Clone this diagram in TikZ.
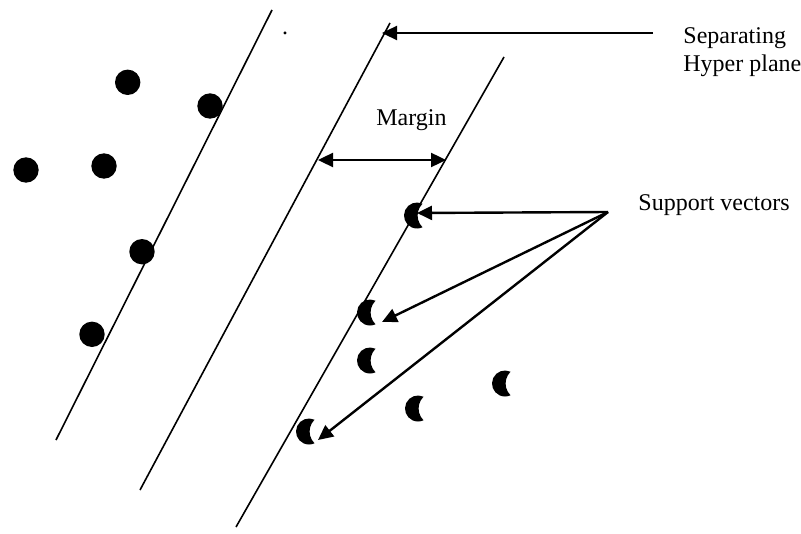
\documentclass[tikz,border=0pt]{standalone}
\usepackage{fontspec}
\setmainfont{Liberation Serif}
\usetikzlibrary{arrows.meta}

\begin{document}
\begin{tikzpicture}[x=0.5pt, y=-0.5pt, >={Triangle[length=7.5pt,width=7pt]},
  every node/.style={font=\fontsize{12}{14}\selectfont, inner sep=0pt},
  hyper/.style={line width=0.8pt},
  pointer/.style={line width=1.2pt,->},
  dot/.style={circle,fill,minimum size=12.7pt},
  moon/.pic={\fill (65:6.5pt) arc[start angle=65,end angle=295,radius=6.5pt]
               arc[start angle=-134.8,end angle=-225.2,radius=8.3pt] -- cycle;}]
  \useasboundingbox (0,0) rectangle (801,534);
  % the three planes
  \coordinate (l1top) at (272,10);  \coordinate (l1bot) at (56,440);
  \coordinate (l2top) at (390,23);  \coordinate (l2bot) at (140,490);
  \coordinate (l3top) at (504,57);  \coordinate (l3bot) at (236,527);
  \draw[hyper] (l1top) -- (l1bot);
  \draw[hyper] (l2top) -- (l2bot);
  \draw[hyper] (l3top) -- (l3bot);
  % class one
  \node[dot] (c1) at (127.7,82.3) {};
  \node[dot] (c2) at (210,106) {};
  \node[dot] (c3) at (26,170) {};
  \node[dot] (c4) at (104,166) {};
  \node[dot] (c5) at (142,251.7) {};
  \node[dot] (c6) at (92,334.3) {};
  % class two
  \coordinate (m1) at (417,215.5);
  \coordinate (m2) at (370,312.5);
  \coordinate (m3) at (370,360.5);
  \coordinate (m4) at (505,383.5);
  \coordinate (m5) at (418,408.5);
  \coordinate (m6) at (309,431.5);
  \pic at (m1) {moon};
  \pic at (m2) {moon};
  \pic at (m3) {moon};
  \pic at (m4) {moon};
  \pic at (m5) {moon};
  \pic at (m6) {moon};
  % labels
  \node[anchor=base] (stray) at (285,34.5) {.};
  \node[anchor=base west] (margin) at (376,126) {Margin};
  \node[anchor=base west] (sep1) at (683,44) {Separating};
  \node[anchor=base west] (sep2) at (683,72) {Hyper plane};
  \node[anchor=base west] (support) at (638,210) {Support vectors};
  % arrows
  \coordinate (sepstart) at (653,33);
  \coordinate (septip) at (382,33);
  \draw[pointer] (sepstart) -- (septip);
  \coordinate (ma) at (318,160);
  \coordinate (mb) at (446,160);
  \draw[pointer,<->] (ma) -- (mb);
  \coordinate (sv) at (608,212);
  \coordinate (t1) at (417,213);
  \coordinate (t2) at (382,322);
  \coordinate (t3) at (318,440);
  \draw[pointer] (sv) -- (t1);
  \draw[pointer] (sv) -- (t2);
  \draw[pointer] (sv) -- (t3);
\end{tikzpicture}
\end{document}
